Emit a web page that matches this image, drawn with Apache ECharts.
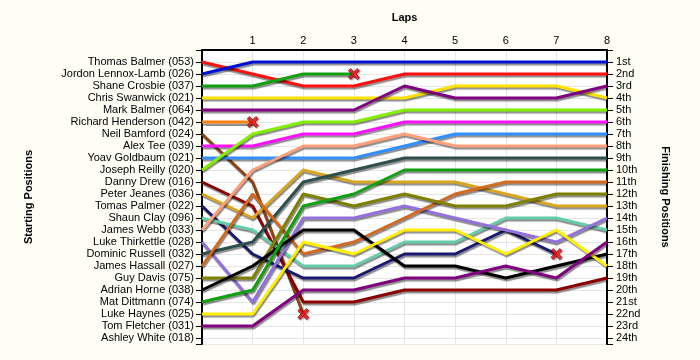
<!DOCTYPE html>
<html>
<head>
<meta charset="utf-8">
<script src="https://cdn.jsdelivr.net/npm/echarts@6/dist/echarts.min.js"></script>
<style>
html,body{margin:0;padding:0;background:#fffef5;}
#c{width:700px;height:360px;}
</style>
</head>
<body>
<div id="c"></div>
<script>
// Laps on the top axis
const laps = [0, 1, 2, 3, 4, 5, 6, 7, 8];

// Drivers in starting order
const drivers = [
  "Thomas Balmer (053)", "Jordon Lennox-Lamb (026)", "Shane Crosbie (037)", "Chris Swanwick (021)",
  "Mark Balmer (064)", "Richard Henderson (042)", "Neil Bamford (024)", "Alex Tee (039)",
  "Yoav Goldbaum (021)", "Joseph Reilly (020)", "Danny Drew (016)", "Peter Jeanes (036)",
  "Tomas Palmer (022)", "Shaun Clay (096)", "James Webb (033)", "Luke Thirkettle (028)",
  "Dominic Russell (032)", "James Hassall (027)", "Guy Davis (075)", "Adrian Horne (038)",
  "Mat Dittmann (074)", "Luke Haynes (025)", "Tom Fletcher (031)", "Ashley White (018)"
];

// Position of each driver at the end of each lap (lap 0 = grid)
const positionsByLap = [
  [1, 2, 3, 3, 2, 2, 2, 2, 2],
  [2, 1, 1, 1, 1, 1, 1, 1, 1],
  [3, 3, 2, 2],
  [4, 4, 4, 4, 4, 3, 3, 3, 4],
  [5, 5, 5, 5, 3, 4, 4, 4, 3],
  [6, 6],
  [7, 11, 22],
  [8, 8, 7, 7, 6, 6, 6, 6, 6],
  [9, 9, 9, 9, 8, 7, 7, 7, 7],
  [10, 7, 6, 6, 5, 5, 5, 5, 5],
  [11, 13, 21, 21, 20, 20, 20, 20, 19],
  [12, 14, 10, 11, 11, 11, 12, 13, 13],
  [13, 17, 19, 19, 17, 17, 15, 17],
  [14, 15, 18, 18, 16, 16, 14, 14, 15],
  [15, 10, 8, 8, 7, 8, 8, 8, 8],
  [16, 21, 14, 14, 13, 14, 15, 16, 14],
  [17, 16, 11, 10, 9, 9, 9, 9, 9],
  [18, 12, 17, 16, 14, 12, 11, 11, 11],
  [19, 19, 12, 13, 12, 13, 13, 12, 12],
  [20, 18, 15, 15, 18, 18, 19, 18, 17],
  [21, 20, 13, 12, 10, 10, 10, 10, 10],
  [22, 22, 16, 17, 15, 15, 17, 15, 18],
  [23, 23, 20, 20, 19, 19, 18, 19, 16],
  []
];

// Drivers who retired (marked with a cross at their last lap)
const retired = ["Shane Crosbie (037)", "Richard Henderson (042)", "Neil Bamford (024)", "Tomas Palmer (022)"];

// Finishing position tick labels
const finishLabels = ["1st","2nd","3rd","4th","5th","6th","7th","8th","9th","10th","11th","12th",
  "13th","14th","15th","16th","17th","18th","19th","20th","21st","22nd","23rd","24th"];

const palette = [
  "#ff1010", "#0010d0", "#10a010", "#ffe000", "#800080", "#ff8010",
  "#8b4513", "#ff10ff", "#3090ff", "#80f000", "#8b0000", "#daa520",
  "#191970", "#66cdaa", "#ffa07a", "#9370db", "#2f4f4f", "#d2691e",
  "#808000", "#000000", "#10a010", "#ffee00", "#800080", "#888888"
];

const FONT = "Liberation Sans";
const series = [];
drivers.forEach((name, i) => {
  const pos = positionsByLap[i];
  if (!pos.length) return;
  series.push({
    name: name,
    type: "line",
    data: pos.map((p, k) => [laps[k], p]),
    showSymbol: false,
    symbol: "none",
    animation: false,
    lineStyle: {
      width: 3,
      color: palette[i],
      shadowColor: "rgba(0,0,0,0.45)",
      shadowOffsetX: 1,
      shadowOffsetY: 2,
      shadowBlur: 1
    },
    z: 2
  });
});

const crossData = retired.map(n => {
  const i = drivers.indexOf(n);
  const pos = positionsByLap[i];
  return [laps[pos.length - 1], pos[pos.length - 1]];
});
series.push({
  type: "scatter",
  data: crossData,
  symbol: "path://M2,0 L5,3 L8,0 L10,2 L7,5 L10,8 L8,10 L5,7 L2,10 L0,8 L3,5 L0,2 Z",
  symbolSize: 11,
  itemStyle: { color: "#ff1010", borderColor: "#700", borderWidth: 0.8, shadowColor: "rgba(0,0,0,0.4)", shadowOffsetX: 1, shadowOffsetY: 1, shadowBlur: 1 },
  animation: false,
  z: 5
});

const chart = echarts.init(document.getElementById("c"), null, { renderer: "canvas" });
const yBase = {
  type: "value",
  inverse: true,
  min: 0,
  max: 24.5,
  interval: 1,
  axisLine: { show: true, lineStyle: { color: "#000", width: 2 } },
  axisTick: { show: true, length: 6, lineStyle: { color: "#000", width: 1 } },
  splitLine: { show: false },
  nameLocation: "middle",
  nameTextStyle: { fontFamily: FONT, fontSize: 11, fontWeight: "bold", color: "#000" }
};
chart.setOption({
  backgroundColor: "#fffef5",
  animation: false,
  grid: { left: 202, right: 93, top: 50, bottom: 16, show: true, backgroundColor: "#ffffff", borderWidth: 0 },
  xAxis: {
    type: "value",
    position: "top",
    min: 0,
    max: 8,
    interval: 1,
    name: "Laps",
    nameLocation: "middle",
    nameGap: 27,
    nameTextStyle: { fontFamily: FONT, fontSize: 11, fontWeight: "bold", color: "#000" },
    axisLine: { show: true, lineStyle: { color: "#000", width: 2 } },
    axisTick: { show: false },
    axisLabel: { margin: 4, fontFamily: FONT, fontSize: 11, color: "#000", formatter: v => (v === 0 ? "" : String(v)) },
    splitLine: { show: true, lineStyle: { color: "#e6e6e6", width: 1 } }
  },
  yAxis: [
    Object.assign({}, yBase, {
      position: "left",
      name: "Starting Positions",
      nameRotate: 90,
      nameGap: 168,
      splitLine: { show: true, lineStyle: { color: "#e6e6e6", width: 1 } },
      axisLabel: { margin: 8, fontFamily: FONT, fontSize: 11, color: "#000",
        formatter: v => (Number.isInteger(v) && v >= 1 && v <= drivers.length ? drivers[v - 1] : "") }
    }),
    Object.assign({}, yBase, {
      position: "right",
      name: "Finishing Positions",
      nameRotate: -90,
      nameGap: 53,
      axisLabel: { margin: 9, fontFamily: FONT, fontSize: 11, color: "#000",
        formatter: v => (Number.isInteger(v) && v >= 1 && v <= finishLabels.length ? finishLabels[v - 1] : "") }
    })
  ],
  series: series
});
</script>
</body>
</html>
